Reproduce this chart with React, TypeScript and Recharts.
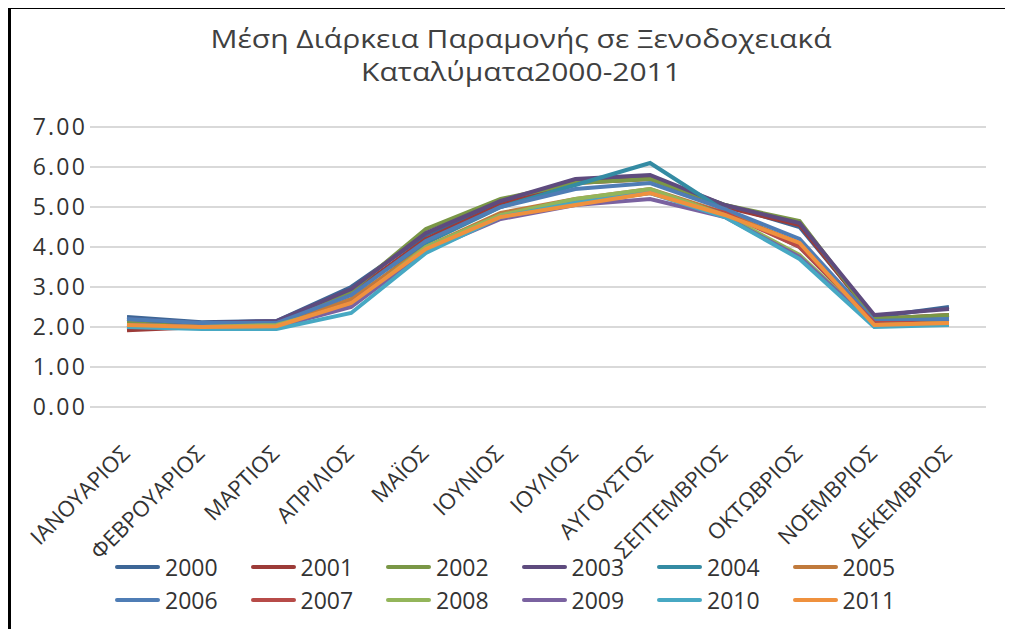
import { LineChart, Line, XAxis, YAxis, CartesianGrid, Legend } from 'recharts'

const months = [
  'ΙΑΝΟΥΑΡΙΟΣ', 'ΦΕΒΡΟΥΑΡΙΟΣ', 'ΜΑΡΤΙΟΣ', 'ΑΠΡΙΛΙΟΣ', 'ΜΑΪΟΣ', 'ΙΟΥΝΙΟΣ',
  'ΙΟΥΛΙΟΣ', 'ΑΥΓΟΥΣΤΟΣ', 'ΣΕΠΤΕΜΒΡΙΟΣ', 'ΟΚΤΩΒΡΙΟΣ', 'ΝΟΕΜΒΡΙΟΣ', 'ΔΕΚΕΜΒΡΙΟΣ',
]

const years = ['2000', '2001', '2002', '2003', '2004', '2005', '2006', '2007', '2008', '2009', '2010', '2011']

const y2000 = [2.25, 2.12, 2.15, 3.0, 4.3, 5.1, 5.65, 5.75, 5.05, 4.5, 2.25, 2.5]
const y2001 = [1.92, 2.0, 2.05, 2.85, 4.2, 5.05, 5.6, 5.7, 5.0, 4.55, 2.2, 2.3]
const y2002 = [2.1, 2.05, 2.1, 2.9, 4.45, 5.2, 5.6, 5.7, 5.05, 4.65, 2.2, 2.3]
const y2003 = [2.2, 2.1, 2.15, 2.95, 4.35, 5.15, 5.7, 5.8, 5.05, 4.6, 2.3, 2.45]
const y2004 = [2.05, 2.0, 2.0, 2.6, 4.1, 5.0, 5.55, 6.1, 4.9, 4.0, 2.1, 2.2]
const y2005 = [2.0, 2.0, 2.05, 2.7, 4.0, 4.85, 5.2, 5.45, 4.85, 4.1, 2.1, 2.15]
const y2006 = [2.2, 2.1, 2.1, 2.8, 4.15, 5.0, 5.45, 5.6, 4.95, 4.2, 2.15, 2.2]
const y2007 = [2.0, 1.98, 2.0, 2.6, 3.95, 4.8, 5.1, 5.35, 4.85, 4.0, 2.1, 2.1]
const y2008 = [2.05, 2.0, 2.05, 2.55, 4.0, 4.8, 5.2, 5.45, 4.8, 3.8, 2.05, 2.1]
const y2009 = [2.05, 2.0, 2.0, 2.5, 3.9, 4.7, 5.05, 5.2, 4.75, 3.75, 2.05, 2.05]
const y2010 = [2.0, 1.95, 1.95, 2.35, 3.85, 4.75, 5.1, 5.35, 4.75, 3.7, 2.0, 2.05]
const y2011 = [2.05, 2.0, 2.02, 2.6, 3.95, 4.75, 5.05, 5.35, 4.8, 4.1, 2.05, 2.1]

const series = [y2000, y2001, y2002, y2003, y2004, y2005, y2006, y2007, y2008, y2009, y2010, y2011]

const colors = [
  '#3d6696', '#9c3b38', '#7a9746', '#5e4b7e', '#348ba3', '#c07a3c',
  '#4f7db5', '#b74b48', '#93b55a', '#7a62a0', '#47a8c3', '#ef913e',
]

const yTicks = [0, 1, 2, 3, 4, 5, 6, 7]

const data = months.map((m, i) => {
  const row: Record<string, string | number> = { month: m }
  years.forEach((y, k) => {
    row[y] = series[k][i]
  })
  return row
})

const FONT = '"Open Sans", "Noto Sans", sans-serif'

function MonthTick({ x, y, payload }: any) {
  const tx = x + 4
  const ty = y + 40
  return (
    <text
      x={tx}
      y={ty}
      transform={`rotate(-45, ${tx}, ${ty})`}
      textAnchor="end"
      fontSize={22}
      fontFamily={FONT}
      fill="#333"
    >
      {payload.value}
    </text>
  )
}

function ValueTick({ x, y, payload }: any) {
  return (
    <text
      x={x + 2}
      y={y}
      dy={8}
      textAnchor="end"
      fontSize={23}
      fontFamily={FONT}
      fill="#333"
      letterSpacing={2.2}
    >
      {Number(payload.value).toFixed(2)}
    </text>
  )
}

function LegendBox({ payload }: any) {
  const items = payload || []
  return (
    <div style={{ position: 'relative', height: 66, fontFamily: FONT }}>
      {items.map((it: any, i: number) => {
        const col = i % 6
        const row = Math.floor(i / 6)
        return (
          <div
            key={it.value}
            style={{
              position: 'absolute',
              left: 104 + col * 135.5,
              top: row * 33 - 2,
              height: 33,
              display: 'flex',
              alignItems: 'center',
            }}
          >
            <span style={{ display: 'inline-block', width: 45, height: 4, borderRadius: 2, background: it.color }} />
            <span style={{ marginLeft: 5, fontSize: 23, color: '#333' }}>{it.value}</span>
          </div>
        )
      })}
    </div>
  )
}

export default function App() {
  return (
    <div
      style={{
        position: 'relative',
        top: -2,
        width: 994,
        height: 620,
        borderTop: '3px solid #000',
        borderLeft: '3px solid #000',
        background: '#fff',
      }}
    >
      <div
        style={{
          position: 'absolute',
          left: 0,
          top: 13,
          width: 1020,
          textAlign: 'center',
          fontFamily: FONT,
          fontSize: 25,
          lineHeight: '33px',
          color: '#404040',
        }}
      >
        <div style={{ transform: 'scaleX(1.2)' }}>Μέση Διάρκεια Παραμονής σε Ξενοδοχειακά</div>
        <div style={{ transform: 'scaleX(1.2)' }}>Καταλύματα2000-2011</div>
      </div>
      <LineChart
        width={994}
        height={620}
        data={data}
        margin={{ top: 118, right: 19, left: 0, bottom: 11 }}
      >
        <CartesianGrid vertical={false} stroke="#d9d9d9" strokeWidth={2} />
        <XAxis
          dataKey="month"
          axisLine={false}
          tickLine={false}
          interval={0}
          height={145}
          padding={{ left: 37, right: 37 }}
          tick={<MonthTick />}
        />
        <YAxis
          domain={[0, 7]}
          ticks={yTicks}
          axisLine={false}
          tickLine={false}
          tickSize={0}
          tickMargin={5}
          width={79}
          tick={<ValueTick />}
        />
        <Legend verticalAlign="bottom" content={<LegendBox />} />
        {years.map((y, k) => (
          <Line
            key={y}
            type="linear"
            dataKey={y}
            stroke={colors[k]}
            strokeWidth={4}
            dot={false}
            isAnimationActive={false}
          />
        ))}
      </LineChart>
    </div>
  )
}
